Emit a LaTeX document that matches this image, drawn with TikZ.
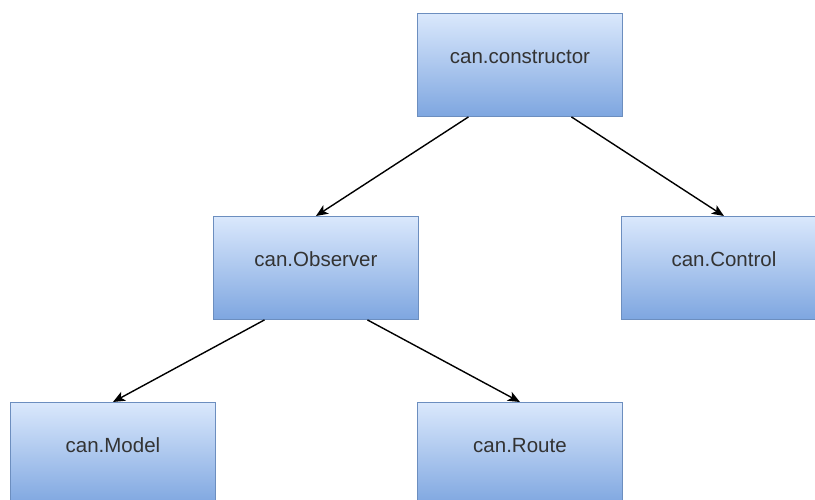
\documentclass[tikz,border=0pt]{standalone}
\usepackage{fontspec}
\setmainfont{Liberation Sans}
\usetikzlibrary{arrows.meta,calc}
\definecolor{boxtop}{HTML}{DAE8FC}
\definecolor{boxbottom}{HTML}{7EA6E0}
\definecolor{boxline}{HTML}{6C8EBF}
\definecolor{labeltext}{HTML}{333333}
\begin{document}
\begin{tikzpicture}[x=1pt,y=-1pt,
  classbox/.style={rectangle, draw=boxline, line width=0.9pt,
    top color=boxtop, bottom color=boxbottom,
    minimum width=205pt, minimum height=103pt, inner sep=0pt,
    anchor=north west, text=labeltext,
    font=\fontsize{20.5}{23}\selectfont,
    text height=14pt, text depth=17pt},
  link/.style={draw=black, line width=1.4pt,
    -{Stealth[length=12pt,width=10pt,inset=3pt]}}]
  \useasboundingbox (0,0) rectangle (815,500);
  \clip (0,0) rectangle (815,500);
  % class hierarchy
  \node[classbox] (ctor) at (417,13) {can.constructor};
  \node[classbox] (obs) at (213,216) {can.Observer};
  \node[classbox] (ctrl) at (621,216) {can.Control};
  \node[classbox] (model) at (10,402) {can.Model};
  \node[classbox] (route) at (417,402) {can.Route};
  % inheritance links
  \draw[link] ($(ctor.south west)!0.25!(ctor.south east)$) -- (obs.north);
  \draw[link] ($(ctor.south west)!0.75!(ctor.south east)$) -- (ctrl.north);
  \draw[link] ($(obs.south west)!0.25!(obs.south east)$) -- (model.north);
  \draw[link] ($(obs.south west)!0.75!(obs.south east)$) -- (route.north);
\end{tikzpicture}
\end{document}
